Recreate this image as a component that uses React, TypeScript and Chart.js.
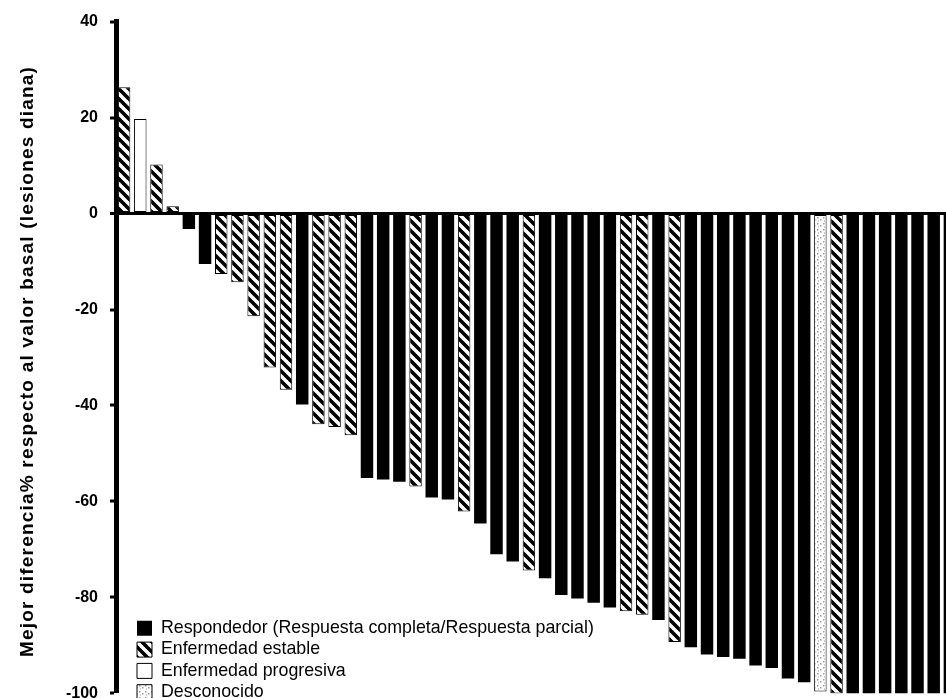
import React, { useEffect, useRef } from 'react';
import { Chart, registerables } from 'chart.js';

Chart.register(...registerables);

// Best % change from baseline (target lesions), one bar per patient, sorted
const values: number[] = [
  26.3, 19.7, 10.2, 1.5,
  -3.2, -10.5, -12.6, -14.3, -21.4, -32.1, -36.7, -39.8, -43.9, -44.5, -46.2,
  -55.1, -55.4, -55.9, -56.9, -59.2, -59.6, -62.1, -64.6,
  -71.0, -72.5, -74.4, -76.0, -79.5, -80.2, -81.1, -82.1, -82.9, -83.6, -84.7,
  -89.3, -90.4, -91.9, -92.4, -92.8, -94.2, -94.7, -96.9, -97.7,
  -99.6, -100,
  -100, -100, -100, -100, -100, -100, -100,
];

// R = responder, S = stable disease, P = progressive disease, U = unknown
const status: string[] = [
  'S', 'P', 'S', 'S',
  'R', 'R', 'S', 'S', 'S', 'S', 'S', 'R', 'S', 'S', 'S',
  'R', 'R', 'R', 'S', 'R', 'R', 'S', 'R',
  'R', 'R', 'S', 'R', 'R', 'R', 'R', 'R', 'S', 'S', 'R',
  'S', 'R', 'R', 'R', 'R', 'R', 'R', 'R', 'R',
  'U', 'S',
  'R', 'R', 'R', 'R', 'R', 'R', 'R',
];

const categoryKeys: string[] = ['R', 'S', 'P', 'U'];
const categoryLabels: string[] = [
  'Respondedor (Respuesta completa/Respuesta parcial)',
  'Enfermedad estable',
  'Enfermedad progresiva',
  'Desconocido',
];

const yTitle = 'Mejor diferencia% respecto al valor basal (lesiones diana)';
const yMin = -100;
const yMax = 40;
const yStep = 20;

const FONT = "'Liberation Sans', Arial, Helvetica, sans-serif";

function makeHatch(): CanvasPattern | string {
  const s = 10;
  const c = document.createElement('canvas');
  c.width = s;
  c.height = s;
  const g = c.getContext('2d');
  if (!g) return '#888';
  g.fillStyle = '#fff';
  g.fillRect(0, 0, s, s);
  g.strokeStyle = '#000';
  g.lineWidth = 3.6;
  g.beginPath();
  for (const k of [-s, 0, s]) {
    g.moveTo(k - 1, -1);
    g.lineTo(k + s + 1, s + 1);
  }
  g.stroke();
  const p = g.createPattern(c, 'repeat');
  return p || '#888';
}

function makeDots(): CanvasPattern | string {
  const s = 6;
  const c = document.createElement('canvas');
  c.width = s;
  c.height = s;
  const g = c.getContext('2d');
  if (!g) return '#eee';
  g.fillStyle = '#fff';
  g.fillRect(0, 0, s, s);
  g.fillStyle = '#9a9a9a';
  g.fillRect(1, 1, 1.5, 1.5);
  g.fillRect(4, 3, 1.5, 1.5);
  g.fillRect(2, 4.5, 1, 1);
  const p = g.createPattern(c, 'repeat');
  return p || '#eee';
}

const layoutTweaks = {
  id: 'layoutTweaks',
  afterLayout(chart: any) {
    const lg = chart.legend;
    if (!lg) return;
    const ca = chart.chartArea;
    lg.left = ca.left + 17.5;
    lg.top = ca.bottom - 77.5;
    lg.right = ca.right;
    lg.bottom = chart.height;
    lg.width = lg.right - lg.left;
    lg.height = lg.bottom - lg.top;
  },
  beforeDraw(chart: any) {
    const y = chart.scales.y;
    if (y && !y.__spaced) {
      const orig = y.drawTitle.bind(y);
      y.drawTitle = () => {
        const ctx = chart.ctx;
        ctx.save();
        ctx.letterSpacing = '1.2px';
        ctx.translate(0, 4);
        orig();
        ctx.restore();
      };
      y.__spaced = true;
    }
  },
};

export default function App() {
  const ref = useRef<HTMLCanvasElement | null>(null);

  useEffect(() => {
    document.body.style.margin = '0';
    const canvas = ref.current;
    if (!canvas) return;

    const hatch = makeHatch();
    const dots = makeDots();
    const fills: Record<string, any> = { R: '#000', S: hatch, P: '#fff', U: dots };
    const borders: Record<string, number> = { R: 0, S: 1, P: 1, U: 1 };

    const labels = values.map((_, i) => String(i + 1));
    const datasets = categoryKeys.map((key, ci) => ({
      label: categoryLabels[ci],
      data: values.map((v, i) => (status[i] === key ? v : null)),
      backgroundColor: fills[key],
      borderColor: '#000',
      borderWidth: borders[key],
      borderSkipped: false,
      barPercentage: 0.77,
      categoryPercentage: 1,
    }));

    const chart = new Chart(canvas, {
      type: 'bar',
      data: { labels, datasets: datasets as any },
      options: {
        responsive: false,
        animation: false,
        layout: { padding: { top: 19, bottom: 12, left: 0, right: 4 } },
        plugins: {
          tooltip: { enabled: false },
          legend: {
            display: true,
            position: 'chartArea' as any,
            align: 'start',
            fullSize: false,
            labels: {
              boxWidth: 15,
              boxHeight: 15,
              padding: 3.5,
              color: '#000',
              font: { family: FONT, size: 17.8 },
            },
          },
        },
        scales: {
          x: { display: false, stacked: true },
          y: {
            stacked: true,
            min: yMin,
            max: yMax,
            afterFit: (s: any) => {
              s.width = 116;
            },
            ticks: {
              stepSize: yStep,
              color: '#000',
              padding: 12,
              font: { family: FONT, size: 16, weight: 'bold' },
            },
            grid: {
              drawOnChartArea: true,
              drawTicks: true,
              tickLength: 6,
              tickWidth: 3,
              tickColor: '#000',
              color: (c: any) => (c.tick && c.tick.value === 0 ? '#000' : 'rgba(0,0,0,0)'),
              lineWidth: (c: any) => (c.tick && c.tick.value === 0 ? 3 : 0),
            },
            border: { display: true, color: '#000', width: 5 },
            title: {
              display: true,
              text: yTitle,
              color: '#000',
              font: { family: FONT, size: 19, weight: 'bold' },
              padding: { top: 16, bottom: 0 },
            },
          },
        },
      },
      plugins: [layoutTweaks],
    });

    return () => chart.destroy();
  }, []);

  return (
    <div style={{ position: 'relative', width: 946, height: 698, overflow: 'hidden', background: '#fff' }}>
      <canvas ref={ref} width={962} height={715} style={{ display: 'block' }} />
    </div>
  );
}
